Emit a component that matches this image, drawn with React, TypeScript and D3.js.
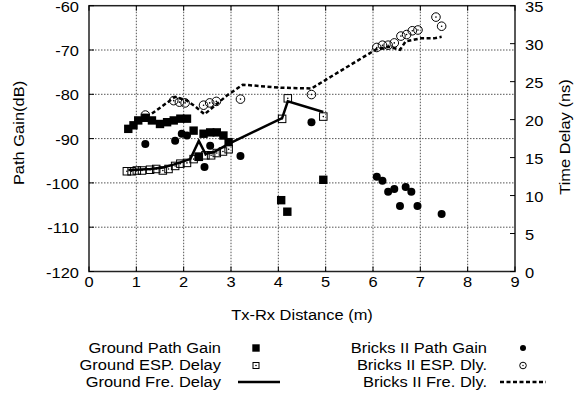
import React, { useEffect, useRef } from 'react';
import * as d3 from 'd3';

// ---- axis ticks ----
const xTicks = [0, 1, 2, 3, 4, 5, 6, 7, 8, 9];
const gainTicks = [-120, -110, -100, -90, -80, -70, -60];
const delayTicks = [0, 5, 10, 15, 20, 25, 30, 35];

// ---- Ground Path Gain (dB) ----
const gpgX = [0.83, 0.94, 1.04, 1.19, 1.33, 1.50, 1.65, 1.79, 1.93, 2.07, 2.21, 2.32, 2.42, 2.56, 2.70, 2.84, 2.95, 4.06, 4.19, 4.95];
const gpgY = [-87.8, -87.0, -85.9, -85.3, -85.9, -86.7, -86.3, -85.9, -85.5, -85.5, -88.2, -94.1, -88.9, -88.6, -88.6, -89.3, -90.8, -103.9, -106.5, -99.3];

// ---- Ground ESP. Delay (ns) ----
const gedX = [0.80, 0.90, 1.01, 1.12, 1.29, 1.42, 1.56, 1.68, 1.82, 1.93, 2.07, 2.21, 2.32, 2.46, 2.58, 2.70, 2.83, 2.95, 4.08, 4.20, 4.95];
const gedY = [13.2, 13.2, 13.3, 13.3, 13.4, 13.5, 13.3, 13.5, 13.9, 14.2, 14.3, 14.8, 15.1, 15.3, 15.3, 15.6, 15.8, 16.1, 20.1, 22.8, 20.4];

// ---- Ground Fre. Delay (ns) ----
const gfdX = [0.83, 1.0, 1.3, 1.57, 1.8, 2.14, 2.32, 2.46, 2.63, 2.95, 4.08, 4.20, 4.95];
const gfdY = [13.35, 13.4, 13.5, 13.7, 14.1, 14.8, 17.2, 15.5, 15.7, 16.8, 20.2, 22.4, 21.0];

// ---- Bricks II Path Gain (dB) ----
const bpgX = [1.19, 1.82, 1.96, 2.07, 2.44, 2.56, 3.20, 4.70, 6.08, 6.20, 6.32, 6.45, 6.57, 6.69, 6.81, 6.94, 7.45];
const bpgY = [-91.2, -90.5, -88.9, -89.3, -96.4, -91.6, -93.9, -86.3, -98.6, -99.5, -102.0, -101.4, -105.2, -100.9, -102.0, -105.2, -107.0];

// ---- Bricks II ESP. Dly. (ns) ----
const bedX = [1.19, 1.79, 1.91, 2.03, 2.42, 2.55, 2.69, 3.20, 4.70, 6.08, 6.20, 6.32, 6.45, 6.59, 6.71, 6.83, 6.95, 7.33, 7.45];
const bedY = [20.6, 22.5, 22.3, 22.2, 21.9, 22.2, 22.4, 22.7, 23.3, 29.5, 29.8, 29.8, 30.1, 31.0, 31.2, 31.7, 31.8, 33.5, 32.3];

// ---- Bricks II Fre. Dly. (ns) ----
const bfdX = [1.33, 1.82, 2.07, 2.25, 2.44, 2.63, 2.92, 3.25, 4.05, 4.70, 6.08, 6.34, 6.57, 6.69, 7.01, 7.29, 7.45];
const bfdY = [20.8, 23.0, 22.5, 21.7, 20.7, 21.7, 23.2, 24.6, 24.2, 24.1, 29.3, 29.6, 29.2, 30.3, 30.7, 30.7, 30.9];

const legendLeft = ['Ground Path Gain', 'Ground ESP. Delay', 'Ground Fre. Delay'];
const legendRight = ['Bricks II Path Gain', 'Bricks II ESP. Dly.', 'Bricks II Fre. Dly.'];

const FONT = '"Liberation Sans", Arial, Helvetica, sans-serif';
const FS = 14.7;
const SX = 1.12;

export default function App() {
  const ref = useRef<SVGSVGElement>(null);

  useEffect(() => {
    document.body.style.margin = '0';
    const svg = d3.select(ref.current);
    svg.selectAll('*').remove();

    const L = 89, R = 515, T = 5.7, B = 271.5;
    const x = d3.scaleLinear().domain([0, 9]).range([L, R]);
    const yG = d3.scaleLinear().domain([-120, -60]).range([B, T]);
    const yD = d3.scaleLinear().domain([0, 35]).range([B, T]);

    const g = svg.append('g');

    const txt = (px: number, py: number, s: string, anchor: string, rot = 0) => {
      g.append('text')
        .attr('transform', `translate(${px},${py}) rotate(${rot}) scale(${SX},1)`)
        .attr('text-anchor', anchor)
        .attr('font-family', FONT)
        .attr('font-size', FS)
        .attr('fill', '#000')
        .text(s);
    };

    // grid
    xTicks.slice(1, -1).forEach((t) => {
      g.append('line').attr('x1', x(t)).attr('x2', x(t)).attr('y1', T).attr('y2', B)
        .attr('stroke', '#555').attr('stroke-width', 1).attr('stroke-dasharray', '1.5,1.5');
    });
    gainTicks.slice(1, -1).forEach((t) => {
      g.append('line').attr('x1', L).attr('x2', R).attr('y1', yG(t)).attr('y2', yG(t))
        .attr('stroke', '#555').attr('stroke-width', 1).attr('stroke-dasharray', '1.5,1.5');
    });

    const zip = (a: number[], b: number[]) => a.map((v, i) => [v, b[i]] as [number, number]);

    const lineD = d3.line<[number, number]>().x((d) => x(d[0])).y((d) => yD(d[1]));
    g.append('path').attr('d', lineD(zip(gfdX, gfdY)) as string)
      .attr('fill', 'none').attr('stroke', '#000').attr('stroke-width', 2.5);
    g.append('path').attr('d', lineD(zip(bfdX, bfdY)) as string)
      .attr('fill', 'none').attr('stroke', '#000').attr('stroke-width', 2.5).attr('stroke-dasharray', '4,2.5');

    const sq = 7.5;
    zip(gedX, gedY).forEach(([a, b]) => {
      g.append('rect').attr('x', x(a) - sq / 2).attr('y', yD(b) - sq / 2).attr('width', sq).attr('height', sq)
        .attr('fill', 'none').attr('stroke', '#000').attr('stroke-width', 1);
      g.append('circle').attr('cx', x(a)).attr('cy', yD(b)).attr('r', 0.8).attr('fill', '#000');
    });
    zip(bedX, bedY).forEach(([a, b]) => {
      g.append('circle').attr('cx', x(a)).attr('cy', yD(b)).attr('r', 4.3)
        .attr('fill', 'none').attr('stroke', '#000').attr('stroke-width', 1);
      g.append('circle').attr('cx', x(a)).attr('cy', yD(b)).attr('r', 0.8).attr('fill', '#000');
    });
    const fs = 8.4;
    zip(gpgX, gpgY).forEach(([a, b]) => {
      g.append('rect').attr('x', x(a) - fs / 2).attr('y', yG(b) - fs / 2).attr('width', fs).attr('height', fs)
        .attr('fill', '#000');
    });
    zip(bpgX, bpgY).forEach(([a, b]) => {
      g.append('circle').attr('cx', x(a)).attr('cy', yG(b)).attr('r', 4).attr('fill', '#000');
    });

    // frame
    g.append('rect').attr('x', L).attr('y', T).attr('width', R - L).attr('height', B - T)
      .attr('fill', 'none').attr('stroke', '#222').attr('stroke-width', 1.5);

    // ticks + labels
    const tl = 5;
    xTicks.forEach((t) => {
      g.append('line').attr('x1', x(t)).attr('x2', x(t)).attr('y1', B).attr('y2', B - tl).attr('stroke', '#000');
      g.append('line').attr('x1', x(t)).attr('x2', x(t)).attr('y1', T).attr('y2', T + tl).attr('stroke', '#000');
      txt(x(t), 287, String(t), 'middle');
    });
    gainTicks.forEach((t) => {
      g.append('line').attr('x1', L).attr('x2', L + tl).attr('y1', yG(t)).attr('y2', yG(t)).attr('stroke', '#000');
      txt(79, yG(t) + 6, String(t), 'end');
    });
    delayTicks.forEach((t) => {
      g.append('line').attr('x1', R).attr('x2', R - tl).attr('y1', yD(t)).attr('y2', yD(t)).attr('stroke', '#000');
      txt(525, yD(t) + 6, String(t), 'start');
    });

    // axis titles
    txt((L + R) / 2, 320, 'Tx-Rx Distance (m)', 'middle');
    txt(24, 133, 'Path Gain(dB)', 'middle', -90);
    txt(569.5, 137, 'Time Delay (ns)', 'middle', -90);

    // legend
    const rows = [352.5, 370, 387];
    rows.forEach((yy, i) => {
      txt(221, yy, legendLeft[i], 'end');
      txt(487, yy, legendRight[i], 'end');
    });
    const lx = 256, rx = 523;
    const c0 = rows[0] - 4.5, c1 = rows[1] - 4.5, c2 = rows[2] - 5;
    g.append('rect').attr('x', lx - 3.7).attr('y', c0 - 3.7).attr('width', 7.4).attr('height', 7.4).attr('fill', '#000');
    g.append('rect').attr('x', lx - 3).attr('y', c1 - 3).attr('width', 6).attr('height', 6)
      .attr('fill', 'none').attr('stroke', '#000').attr('stroke-width', 1);
    g.append('circle').attr('cx', lx).attr('cy', c1).attr('r', 0.8).attr('fill', '#000');
    g.append('line').attr('x1', 238).attr('x2', 280).attr('y1', c2).attr('y2', c2)
      .attr('stroke', '#000').attr('stroke-width', 2.5);
    g.append('circle').attr('cx', rx).attr('cy', c0).attr('r', 3).attr('fill', '#000');
    g.append('circle').attr('cx', rx).attr('cy', c1).attr('r', 3.3)
      .attr('fill', 'none').attr('stroke', '#000').attr('stroke-width', 1);
    g.append('circle').attr('cx', rx).attr('cy', c1).attr('r', 0.7).attr('fill', '#000');
    g.append('line').attr('x1', 500).attr('x2', 546).attr('y1', c2).attr('y2', c2)
      .attr('stroke', '#000').attr('stroke-width', 2.5).attr('stroke-dasharray', '4,2.5');
  }, []);

  return (
    <svg ref={ref} width={584} height={398}
      style={{ display: 'block', position: 'absolute', left: 0, top: 0, background: '#fff' }} />
  );
}
